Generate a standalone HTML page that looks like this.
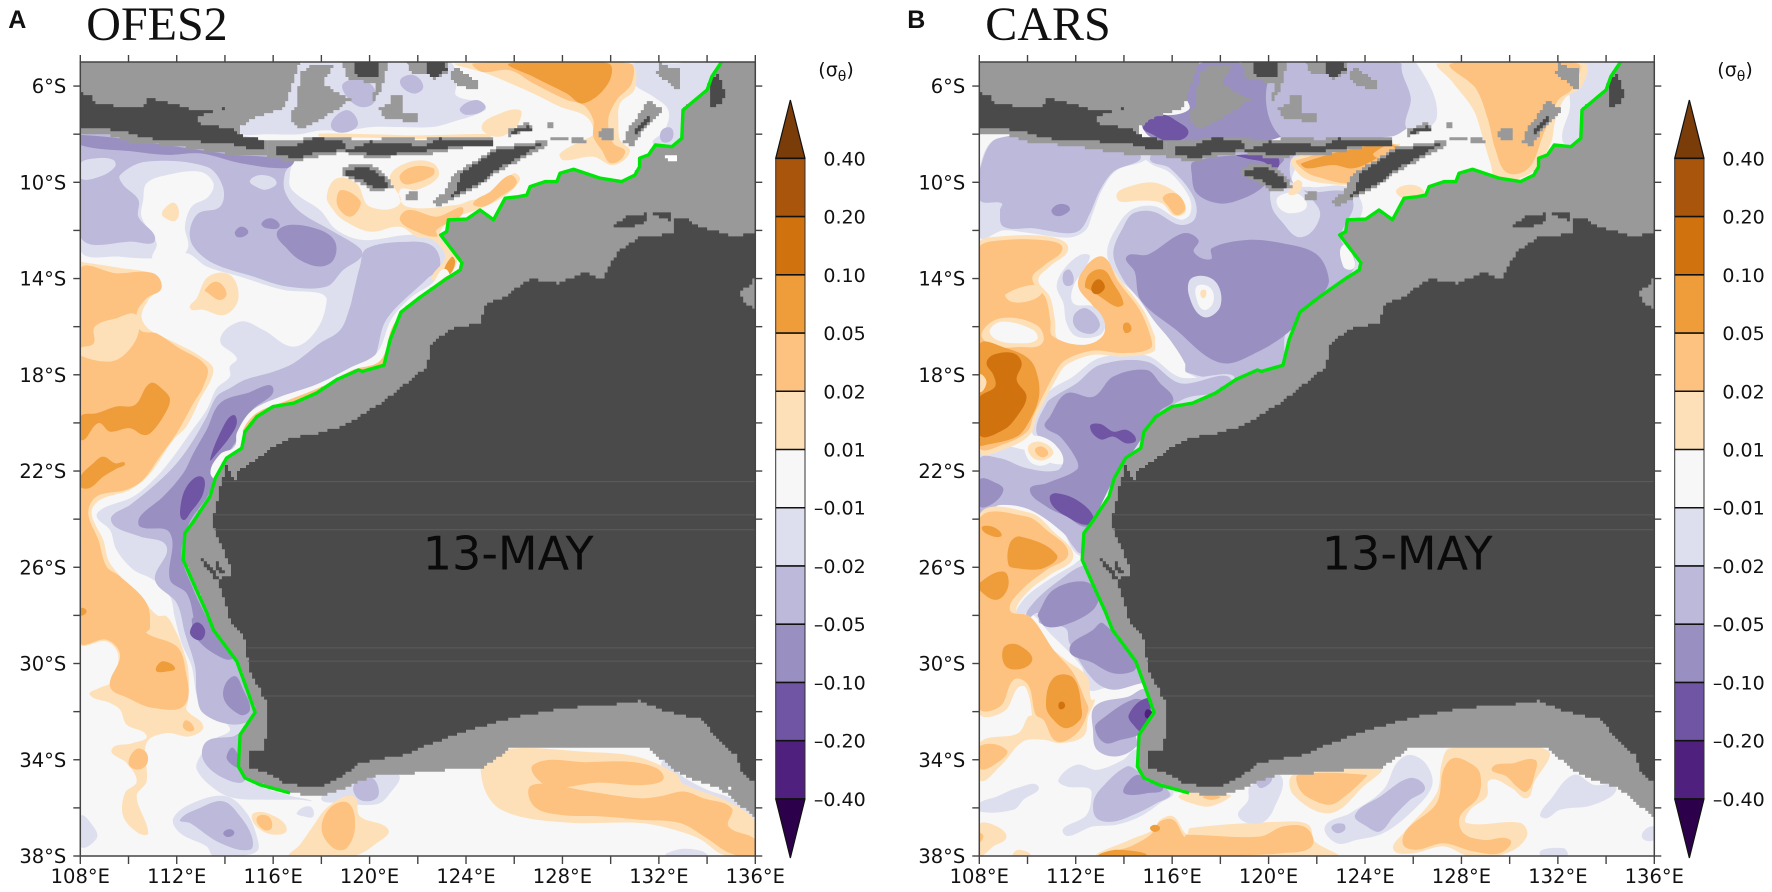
<!DOCTYPE html>
<html lang="en">
<head>
<meta charset="utf-8">
<title>OFES2 and CARS density anomaly, 13 May</title>
<style>
html,body{margin:0;padding:0;background:#fff;width:1772px;height:892px;overflow:hidden}
svg{display:block}
.tick{font-family:"DejaVu Sans","Liberation Sans",sans-serif;font-size:19.5px;fill:#111}
.cb{font-family:"DejaVu Sans","Liberation Sans",sans-serif;font-size:19px;fill:#111}
.title{font-family:"Liberation Serif",serif;font-size:48px;fill:#111}
.letter{font-family:"Liberation Sans",sans-serif;font-size:25px;font-weight:bold;fill:#111}
.date{font-family:"DejaVu Sans","Liberation Sans",sans-serif;font-size:46px;fill:#0a0a0a}
</style>
</head>
<body>
<svg id="chart" xmlns="http://www.w3.org/2000/svg" width="1772" height="892" viewBox="0 0 1772 892"></svg>
<script>
/* ---- axis values ---- */
const lonTicks = [108,110,112,114,116,118,120,122,124,126,128,130,132,134,136];
const lonLabels = [108,112,116,120,124,128,132,136];
const latTicks = [6,8,10,12,14,16,18,20,22,24,26,28,30,32,34,36,38];
const latLabels = [6,10,14,18,22,26,30,34,38];
const lonRange = [108,136];
const latRange = [5,38];
/* ---- colour-bar levels, top to bottom ---- */
const levelValues = [0.40,0.20,0.10,0.05,0.02,0.01,-0.01,-0.02,-0.05,-0.10,-0.20,-0.40];
const panelNames = ["OFES2","CARS"];
const panelLetters = ["A","B"];
const dateLabel = "13-MAY";
const dateLon = 125.75;
const dateLat = 26.1;
/* band index: 0 below -0.40 ... 12 above 0.40 */
const C6=1,C5=2,C4=2,C3=3,C2=4,C1=5,W=6,P1=7,P2=8,P3=9,P4=10;

/* ---- shared geography, [lon,lat] pairs (lat in degrees south) ---- */
const coastLine = [134.6,5, 134.2,5.6, 134,6.16, 133.5,6.58, 133,7, 132.95,8.17, 132.54,8.52, 131.85,8.45, 131.57,8.86, 131.2,9, 131.2,9.35, 131,9.7, 130.45,9.97, 129.57,9.83, 128.46,9.46, 127.9,9.62, 127.77,9.97, 127.28,9.97, 126.66,10.18, 126.52,10.53, 126.17,10.6, 125.62,10.66, 125.14,11.56, 124.58,11.15, 124.03,11.53, 123.27,11.56, 123.2,12.05, 122.95,12.19, 123.83,13.34, 123.76,13.65, 123.2,14, 122.1,14.77, 121.3,15.4, 120.85,16.55, 120.6,17.6, 119.7,17.86, 119.53,17.8, 118.64,18.2, 117.8,18.76, 116.84,19.18, 116,19.32, 115.32,19.74, 114.83,20.36, 114.7,21.05, 114.07,21.46, 113.6,22.3, 113.38,23.06, 112.69,24.1, 112.34,24.58, 112.27,25.69, 112.69,26.66, 113.25,27.9, 113.52,28.6, 114.49,29.91, 114.97,31.23, 115.25,32.03, 114.63,32.96, 114.56,34.28, 114.83,34.76, 115.46,35.04, 116.7,35.38];
const shelfEdgeEast = [117.66,35.52, 118.5,35.38, 119.6,34.9, 120.34,34.63, 121.27,34.62, 123.4,34.4, 124.62,34.35, 125.31,33.9, 125.87,33.45, 129.5,33.45, 131.54,33.55, 132.79,34.56, 133.75,34.97, 134.44,35.18, 135.24,35.8, 136,36.4, 136,5];
const landOutline = [136,12.09, 135.08,12.26, 134.46,12.05, 133.84,11.9, 133,11.43, 132.6,11.5, 132.6,12.1, 131.85,12.26, 131.2,12.26, 130.9,12.5, 130.27,12.95, 129.97,13.5, 129.63,14.05, 129,13.73, 127.9,14.2, 126.7,14, 125.76,14.67, 124.8,15.14, 124.6,15.85, 123.4,16.08, 122.5,16.78, 122.4,17.7, 120.6,19.1, 119.05,20.08, 118.07,20.4, 116.84,20.62, 116,21, 115.3,21.53, 114.63,21.95, 114.42,22.37, 114.07,21.8, 113.8,22.64, 113.7,23.3, 113.45,24.16, 113.8,25, 114.2,25.96, 114.2,26.38, 113.66,26.5, 114,27.42, 114.2,28.18, 114.9,29.15, 114.97,30.26, 115.73,31.64, 115.73,32.9, 115.6,33.65, 115.04,33.65, 115.04,34.34, 115.73,34.55, 116.42,34.97, 117.53,35.18, 118.22,35.04, 118.78,34.69, 119.6,34.13, 120.3,33.97, 121.27,33.86, 123.4,32.98, 125.76,32.28, 128.1,31.85, 130.4,31.67, 131.2,31.55, 132.05,31.93, 133.84,32.34, 134.2,32.9, 135.24,33.86, 135.4,34.56, 136,34.97];
const landLakes = [[130.05,11.85, 130.5,11.5, 130.9,11.35, 131.5,11.3, 131.4,11.75, 130.8,11.85],[131.75,11.3, 132.55,11.25, 132.55,11.6, 132.1,11.45],[134.12,5.61, 134.47,5.54, 134.68,6.16, 134.84,6.3, 134.54,6.79, 134.12,6.93]];
const landArtifactLats = [22.44,23.82,24.44,29.35,29.9,31.35];
const islandsGrey = [
 [108,5, 117.11,5, 116.7,6.3, 116.5,6.9, 115.4,7.25, 114.63,7.69, 114.56,8.03, 115.73,8.31, 115.73,8.93, 114.35,8.86, 113,8.66, 111.58,8.45, 110.2,8.38, 109.23,8.03, 108,8.03],
 [115.7,8.31, 116.84,8.24, 117.94,8.1, 119.05,8.07, 119.46,8.28, 120.98,8.14, 122.23,8.21, 123.06,8.07, 125.13,8.1, 125.16,8.55, 123.89,8.55, 123.06,8.73, 122.09,8.91, 119.88,8.96, 118.9,8.77, 117.6,9, 116.84,9.14, 115.7,8.93],
 [118.88,9.32, 120.08,9.28, 120.71,9.76, 121.02,10.25, 120.22,10.39, 119.74,10.11, 118.91,9.7],
 [122.57,10.74, 123.13,10.46, 123.2,10.11, 123.61,9.56, 125.27,8.52, 127.35,8.25, 127.35,8.52, 126.65,8.87, 125.27,9.63, 124.72,10.05, 124.03,10.46, 123.2,10.88, 122.78,11.08],
 [117.11,5.47, 117.52,5.13, 118.56,5.13, 118.08,5.89, 118.49,6.17, 119.25,6.58, 118.77,6.93, 117.94,7.41, 117.11,7.83, 116.7,7.28, 116.97,6.72],
 [118.91,5.06, 120.77,5.06, 120.5,6.17, 120.15,6.72, 120.22,5.89, 119.39,5.75, 118.98,5.61],
 [120.36,6.93, 120.84,6.72, 120.91,6.38, 121.33,6.38, 121.4,7.07, 121.95,7.2, 121.95,7.55, 121.26,7.41, 120.71,7.34],
 [121.54,5.06, 123.26,5.06, 123.26,5.41, 122.71,5.75, 122.37,5.47, 121.81,5.47],
 [123.33,5.41, 123.54,5.2, 124.44,5.82, 124.44,6.1, 123.68,6.03, 123.33,5.61],
 [125.68,7.83, 126.52,7.48, 126.86,7.76, 125.82,8.11],
 [127.32,7.48, 127.65,7.48, 127.65,7.72, 127.32,7.72],
 [127.55,8.08, 128.18,8.08, 128.24,8.31, 127.55,8.27],
 [128.38,8.18, 128.73,8.08, 129.07,8.31, 128.38,8.38],
 [129.49,7.83, 130.18,7.69, 130.11,8.24, 129.63,8.24],
 [121.51,10.49, 122.02,10.3, 122.02,10.71, 121.54,10.77],
 [131.49,6.58, 132.13,6.93, 132.13,7.14, 131.49,7.69, 130.94,8.45, 130.5,8.41, 130.73,7.69, 131.22,7.14],
 [131.84,5.47, 132.05,5.06, 132.88,5.34, 132.81,6.24, 132.32,5.75],
 [136,13.9, 135.8,14.3, 135.37,14.6, 135.5,15, 136,15.3]
];
const islandsDark = [
 [108,6.3, 108.4,6.37, 108.6,6.79, 110.6,6.85, 110.82,6.44, 111.17,6.58, 112,6.79, 112.7,7, 114.07,6.92, 112.83,7.27, 113,7.62, 114.35,7.75, 114.63,8.03, 115.6,8.24, 115.66,8.6, 115.18,8.66, 114.5,8.45, 113,8.31, 111.6,8.31, 110.6,8.1, 109.92,7.9, 108.8,7.76, 108,7.8],
 [116.1,8.45, 116.8,8.55, 117.1,8.35, 117.8,8.13, 118.9,8.31, 119.05,8.63, 119.46,8.55, 120.01,8.31, 121.12,8.38, 122.23,8.49, 122.85,8.18, 124.03,8.31, 125.13,8.22, 125.13,8.45, 124.03,8.49, 123.06,8.59, 122.09,8.73, 120.43,8.87, 119.6,8.77, 118.9,8.66, 117.8,8.77, 117.11,9, 116.8,8.95, 116.1,8.85],
 [119.05,9.45, 119.95,9.41, 120.57,9.83, 120.85,10.18, 120.29,10.25, 119.81,9.97, 119.05,9.7],
 [122.78,10.88, 123.2,10.74, 123.61,10.32, 123.75,9.63, 125.27,8.66, 127.28,8.38, 126.52,8.8, 125.27,9.49, 124.65,9.98, 124.03,10.32, 123.2,10.74],
 [119.39,5.06, 120.43,5.06, 120.36,5.61, 119.46,5.61],
 [122.37,5.06, 123.06,5.06, 123.2,5.34, 122.71,5.68, 122.37,5.47],
 [125.82,7.83, 126.65,7.66, 126.72,7.86, 125.82,7.99],
 [131.49,7.25, 131.7,7.35, 131.08,8.04, 130.94,7.83],
 [112.97,25.62, 113.1,25.62, 113.75,26.42, 113.6,26.5],
 [113.52,25.69, 113.65,25.69, 114,26.28, 113.85,26.35]
];
const ofesShelfGaps = [[132.19,8.86, 132.95,8.8, 132.74,9.07, 132.4,9.07],[134.85,35.12, 135,35.12, 135,35.25, 134.85,35.25]];
const carsShelfGaps = [];

/* ---- OFES2 density-anomaly contour patches, painted in order: [band, lon,lat...] ---- */
const ofesContours = [
 [C1,[108,8, 116.8,8.5, 116.7,9.63, 116.7,10.18, 117.11,10.6, 117.94,11.15, 118.63,11.98, 119.74,12.4, 121.54,12.19, 122.92,12.26, 123.26,13.09, 123.3,14, 121.6,15.2, 120.8,16.5, 120.6,17.7, 118.6,18.3, 116,19.4, 114.8,20.5, 114.7,21.2, 114,21.6, 113.6,22.5, 113.4,23.2, 112.7,24.2, 112.4,25.5, 112.7,26.7, 113.6,28.5, 114.5,30, 115,31.3, 115.3,32, 114.8,33, 114.7,34.3, 115,34.9, 116.7,35.5, 117.6,35.7, 117.11,35.66, 115.73,35.66, 114.35,35.59, 113.52,35.18, 112.83,34.4, 112.97,33.86, 113.52,33.17, 114.2,32.68, 113.1,32.06, 112.83,31.37, 112.62,30.12, 112.2,29.15, 111.9,28, 111.72,27.22, 111.03,26.52, 110.2,26.1, 109.5,25.28, 109.23,24.45, 108.68,23.89, 108.95,23.55, 110.2,23.06, 111.17,22.23, 111.86,21.4, 112.55,20.43, 113.24,19.46, 113.66,18.56, 114.2,18.08, 114.2,17.66, 114.49,17.31, 113.8,16.55, 114.63,15.79, 115.6,16.14, 116.84,16.83, 117.8,16.14, 118.22,14.89, 117.94,14.61, 116.42,14.47, 114.63,13.92, 113.24,13.5, 112.41,12.95, 111.17,13.16, 109.65,13.09, 108,12.81]],
 [W,[110.61,10.73, 110.75,10.04, 111.58,9.7, 112.97,9.56, 113.52,10.04, 113.31,10.6, 112.62,11.01, 112.34,11.84, 112.48,12.67, 112.14,13.1, 111.03,13.2, 111.17,12.53, 110.54,11.43]],
 [C1,[114.6,7.7, 115.45,7.15, 116.56,6.4, 117.1,5.1, 118.5,5, 123.3,5, 123.6,5.9, 123.6,6.4, 124.7,6.7, 124.8,7, 123.4,7.5, 122.6,7.7, 121.2,7.7, 120.1,7.7, 119,7.85, 117.9,7.85, 117.1,8, 115.7,8, 114.7,8]],
 [C1,[130.73,5.13, 130.94,5.89, 131.77,6.44, 132.39,7, 132.25,7.83, 131.77,8.4, 132.95,8.5, 133.5,7, 134.6,5, 132.74,5.06]],
 [C2,[108,7.96, 116.84,8.93, 116.49,9.63, 116.49,10.39, 117.11,11.22, 118.5,12.05, 119.6,12.74, 119.67,13.09, 118.91,13.64, 118.22,14.33, 116.56,14.33, 115.18,13.92, 113.52,13.37, 112.69,12.67, 112.55,11.98, 112.9,11.29, 113.8,11.01, 113.91,10.18, 113.24,9.35, 110.75,9.14, 109.65,9.7, 109.78,10.11, 110.41,10.73, 110.41,11.43, 111.1,12.4, 110.2,12.47, 108,12.26]],
 [C1,[108,9.21, 108.68,9, 109.37,9.07, 109.44,9.35, 108.82,9.76, 108,9.83]],
 [C1,[115.04,9.92, 115.59,9.7, 116.14,9.99, 115.73,10.3, 115.32,10.2]],
 [C2,[118.91,5.89, 119.74,5.75, 120.23,6.16, 120.16,6.72, 119.6,6.86, 119.05,6.44]],
 [C2,[118.43,7.76, 119.05,7, 119.47,7.69]],
 [C2,[117.11,7.13, 117.8,6.72, 118.2,7.13, 117.11,7.55]],
 [C2,[121.26,5.82, 121.81,5.54, 122.23,6.03, 121.81,6.31]],
 [C2,[123.75,6.93, 124.44,6.58, 124.79,6.93, 124.03,7.2]],
 [C2,[132.12,7.83, 132.53,7.76, 132.53,8.24, 132.12,8.3]],
 [C2,[119.88,12.75, 121.68,12.47, 122.65,12.68, 122.92,13.5, 122.4,14, 120.7,15.7, 120,17.6, 118,18.5, 116,19.3, 114.7,20.6, 114,21.5, 113.6,22.3, 112.9,24.5, 112.4,25.5, 112.7,26.7, 113.25,27.9, 114.2,29.5, 115.1,31.5, 115.2,32.2, 114.35,32.54, 113.1,32.06, 112.83,31.23, 112.76,30.12, 112.34,28.74, 112,27.49, 111.1,26.52, 111.58,25.14, 110.48,24.72, 109.44,24.31, 109.3,23.89, 110.06,23.41, 111.17,22.51, 112,21.68, 112.69,20.71, 113.24,19.74, 113.66,18.9, 114.2,18.56, 114.83,18.21, 116,17.87, 116.84,17.52, 117.94,16.69, 118.78,16.14, 119.19,15.17, 119.33,14.6, 119.6,13.5]],
 [C2,[113.24,33.24, 114.35,33.03, 114.76,32.89, 114.83,34.83, 113.93,34.76, 113.1,34]],
 [C1,[111.86,36.42, 112.83,35.73, 114.07,35.52, 114.9,36.21, 115.32,37.18, 115.32,37.81, 114.35,38, 113.52,38, 113.24,37.6, 112.14,37.05]],
 [C2,[112.14,36.49, 112.97,36, 113.93,35.73, 114.63,36.35, 115.11,37.18, 115.04,37.74, 113.8,37.46, 112.55,36.63]],
 [C3,[108,8.03, 108,8.45, 110.2,8.72, 111.58,8.86, 113,8.8, 114.63,9.2, 116.56,9.41, 116.84,9.07, 115.6,8.93, 114.35,8.86, 113,8.66]],
 [C3,[116.15,12.12, 116.7,11.77, 117.94,11.98, 118.57,12.47, 118.5,13.23, 117.94,13.5, 117.11,13.23, 116.56,12.74]],
 [C3,[114.42,12.05, 114.69,11.84, 114.97,12.05, 114.76,12.26, 114.49,12.26]],
 [C3,[115.52,11.7, 115.94,11.5, 116.26,11.84, 115.73,11.91]],
 [C3,[116,18.56, 115.1,19.5, 114.5,20.7, 113.66,21.95, 113.3,23, 112.5,24.2, 112.2,25.5, 112.6,26.7, 113.2,28, 113.9,29.2, 114.35,29.77, 113.52,29.57, 112.76,28.87, 112.62,28.18, 112.69,28.05, 112.41,27.08, 111.72,26.52, 111.72,24.58, 110.48,24.31, 110.48,23.89, 111.44,23.06, 112.27,22.09, 112.69,21.26, 113.24,20.29, 113.8,19.18, 114.9,18.77]],
 [C3,[113.93,31.37, 114.35,30.53, 114.76,31.09, 115.04,31.92, 114.63,32.13]],
 [C3,[114.07,33.86, 114.35,33.51, 114.56,34.28, 114.21,34.14]],
 [C3,[113.93,37.05, 114.21,36.88, 114.39,37.05, 114.14,37.21]],
 [C4,[113.38,21.54, 113.93,20.15, 114.35,19.67, 114.49,20.01, 114.21,20.57, 113.66,21.26]],
 [C4,[112.14,23.62, 112.41,22.65, 113.03,22.23, 113.1,22.92, 112.55,23.75, 112.27,24.03]],
 [C4,[112.55,28.67, 112.83,28.29, 113.17,28.6, 113.03,29.01, 112.69,28.94]],
 [C1,[132.2,34, 133,34.7, 134,35.25, 135,35.6, 135.8,36.2, 136,36.8, 135.6,36.6, 134.5,36.05, 133.4,35.6, 132.5,35.05]],
 [C1,[118,35.55, 119.33,34.8, 119.88,34.4, 121.2,34.6, 120.8,35.45, 120.3,35.85, 119,35.8]],
 [C2,[119.33,35.1, 119.88,34.69, 120.3,34.97, 120.3,35.59, 119.6,35.66]],
 [C1,[116.98,36.2, 117.52,35.94, 117.66,36.35, 117.25,36.35]],
 [C1,[108,36.35, 108.54,36.77, 108.68,37.26, 108,37.6]],
 [P1,[123.61,5.06, 130.8,5.06, 131.01,6.1, 130.39,6.72, 130.32,7.55, 130.39,8.24, 130.8,8.73, 130.11,9.28, 129.28,8.94, 128.04,9.08, 127.9,8.8, 128.87,8.24, 129.28,7.97, 129,7.28, 127.9,6.86, 126.79,6.31, 124.86,5.48]],
 [P2,[124.3,5.06, 130.8,5.06, 130.87,5.89, 130.25,6.58, 129.9,7.41, 130.11,8.38, 130.6,8.73, 130.04,9.21, 129.63,8.66, 129.28,8.1, 129.28,7.41, 128.87,6.79, 128.18,6.58, 126.79,5.89, 125.82,5.34, 124.65,5.41]],
 [P3,[125.82,5.06, 129.9,5.06, 129.9,5.89, 128.87,6.72, 128.18,6.31, 126.79,5.61]],
 [P1,[118.22,10.6, 118.63,9.84, 119.46,10.05, 120.01,11.01, 121.26,10.87, 120.84,9.77, 121.67,9.15, 122.64,9.21, 122.85,9.77, 121.95,10.32, 121.26,10.32, 121.54,11.01, 123.61,10.94, 124.23,10.74, 125,10.6, 125.96,9.63, 126.24,9.9, 125.55,10.6, 124.44,11.15, 123.33,11.57, 122.92,12.26, 123.61,13.09, 123.47,13.65, 123.06,14, 122.57,14, 123.13,13.09, 122.64,12.4, 121.95,12.26, 121.26,11.85, 120.01,12.05, 118.91,11.57, 118.49,11.15]],
 [P1,[124.65,7.69, 125.41,7.14, 126.24,7, 126.24,7.41, 125.96,7.83, 125.27,8.11]],
 [P1,[117.9,7.98, 120,8, 122,8.05, 125,8, 125,8.15, 122,8.2, 120,8.15, 117.9,8.1]],
 [P2,[118.63,10.74, 118.84,10.32, 119.6,10.74, 119.53,11.15, 119.18,11.43, 118.77,11.15]],
 [P2,[121.26,9.7, 121.81,9.35, 122.64,9.42, 122.64,9.7, 121.81,10.05, 121.4,10.05]],
 [P2,[121.26,11.57, 121.6,11.15, 122.78,11.43, 123.89,11.15, 122.78,11.98, 122.78,12.26, 121.95,12.05]],
 [P2,[124.3,10.87, 125,10.39, 125.82,9.7, 126.1,10.05, 125.41,10.6, 124.72,11.01]],
 [P3,[123.06,13.8, 123.4,13.1, 123.55,13.3, 123.35,13.8]],
 [W,[123.1,13.6, 122.6,14.2, 121.7,14.8, 120.9,15.7, 120.3,17.1, 119.2,17.7, 117.8,18.4, 116.2,18.95, 115.1,19.5, 114.5,20.4, 114.4,21, 113.8,21.3, 113.4,22.1, 113.9,22.4, 114.8,21.2, 115,20.4, 115.5,19.8, 116.8,19.3, 119,18.2, 120.8,17.8, 121.2,16.6, 122.1,15, 123.3,14.1]],
 [P2,[123.2,13.9, 122.5,14.5, 121.7,15, 120.95,16, 120.45,17.4, 119.3,17.8, 118,18.5, 116.5,19.1, 115.3,19.6, 114.75,20.3, 114.9,20.5, 115.5,19.9, 117,19.3, 119,18.2, 120.8,17.8, 121.2,16.6, 122.1,15, 123.3,14.1]],
 [P1,[108,13.3, 109.6,13.55, 111.1,13.9, 111.05,14.6, 110.82,14.89, 110.54,15.58, 110.89,16.14, 112,16.7, 113,17.25, 113.52,17.8, 112.95,19.05, 112.4,20.15, 111.86,20.7, 110.9,22.1, 110.06,22.78, 108.82,23.2, 108.47,23.75, 108.95,24.86, 109.23,25.83, 110.6,27.35, 111.2,28, 111.58,28.04, 112,28.74, 112.27,29.43, 112.48,30.26, 112.48,31.5, 112.41,31.92, 113.1,32.61, 112.55,33.03, 111.58,32.89, 110.75,33.3, 110.75,34.9, 110.34,35.52, 110.82,37.05, 110.41,37.05, 109.78,36.35, 109.85,35.38, 110.34,34.9, 109.92,34.14, 109.3,33.58, 110.2,33.3, 110.75,33, 109.92,32.54, 109.65,31.92, 109.23,31.64, 108.4,31.3, 108.82,31, 109.23,30.81, 109.58,29.7, 109.09,29.08, 108,29.15, 108,21, 108,13.3]],
 [P2,[108,13.64, 109.5,13.78, 111.03,13.78, 111.37,14.4, 110.75,14.82, 110.34,15.44, 110.48,16.14, 111.17,16.28, 112,16.83, 113.24,17.66, 113.1,18.49, 112.69,19.18, 112,20.43, 111.3,21.4, 110.6,22.37, 109.92,22.78, 108.68,23.06, 108.33,23.75, 108.75,24.86, 109.09,25.97, 109.65,26.38, 110.75,27.49, 110.89,28.53, 110.75,28.74, 112,29.29, 112.34,30.12, 112.34,31.71, 111.03,31.85, 110,31.44, 109.23,30.95, 109.65,29.64, 109.09,29.01, 108,29.11, 108,21]],
 [P1,[108,16.9, 108,17.2, 109.2,17.45, 109.85,17.15, 110.4,16.3, 110.3,15.5, 109.5,15.65, 108.6,16, 108.55,16.7]],
 [P3,[108,19.74, 108.68,19.6, 109.5,19.32, 110.27,19.25, 110.9,18.35, 111.44,18.63, 111.72,19.04, 111.44,19.74, 110.9,20.43, 110.6,20.5, 110.06,20.22, 109.23,20.36, 108.75,20.01, 108,20.71]],
 [P3,[108,22.23, 108.54,21.68, 108.95,21.4, 109.44,21.68, 109.85,21.68, 109.5,21.9, 108.95,22.23, 108.4,22.7, 108,22.65]],
 [P3,[111.17,30.12, 111.44,29.91, 111.93,30.19, 111.58,30.33, 111.17,30.33]],
 [P3,[108,27.7, 108.26,27.83, 108,28]],
 [P1,[111.44,11.15, 111.93,10.87, 112,11.56, 111.44,11.43]],
 [P1,[112.83,14.82, 113.31,13.92, 114.21,13.85, 114.56,14.82, 114,15.51, 113.1,15.3, 112.55,15.24]],
 [P2,[113.17,14.47, 113.66,14.13, 114.07,14.61, 113.8,14.89, 113.31,14.61]],
 [P2,[110,34.14, 110.34,33.55, 110.75,33.72, 110.75,34.2, 110.34,34.41]],
 [P2,[112.25,32.61, 112.41,32.36, 112.73,32.72, 112.48,32.82]],
 [P1,[117.6,36.84, 118.29,35.94, 119.33,35.52, 119.6,36.35, 120.78,36.9, 120.3,37.46, 119.33,38, 116.7,38, 117.11,37.53]],
 [P2,[118.01,36.9, 118.36,36, 119.12,35.8, 119.4,36.77, 119.05,37.67, 118.5,37.67]],
 [P1,[115.11,36.35, 115.73,36.21, 116.56,36.9, 115.73,37.05]],
 [P2,[115.32,36.42, 115.8,36.35, 115.94,36.84, 115.59,36.9]],
 [P1,[124.9,33.7, 129.5,33.7, 131.2,33.9, 132.74,34.6, 133,35, 135,35.8, 136,36.6, 136,38, 134.68,37.95, 133.71,37.3, 132.6,36.9, 131.22,36.63, 128,36.6, 125.5,36.1, 124.7,35]],
 [P2,[126.6,35.2, 127.2,35, 129,35.3, 131.22,35.6, 132.05,35.52, 133.02,35.32, 133.85,35.6, 135.02,36.01, 134.89,36.77, 136,37.32, 136,38, 134.95,37.88, 133.99,37.26, 132.88,36.63, 131.22,36.49, 129.5,36.35, 128,36.3, 126.9,36]],
 [P2,[126.8,34.2, 129,34.1, 131.22,34.14, 132.2,34.7, 131.4,35.05, 129.5,34.95, 127.4,35.1]],
 [C1,[132.3,37.9, 133,37.7, 133.8,37.8, 134,38, 132.3,38]]
];

/* ---- CARS density-anomaly contour patches, painted in order ---- */
const carsContours = [
 [C1,[108,9.5, 108.8,8.17, 115,8.5, 114.9,9.06, 113.7,9.5, 113.1,10.3, 112.7,11.3, 112.4,12, 111.7,12.3, 110,12.1, 109,12, 108,12.26]],
 [C2,[108,9.56, 108.79,8.17, 112.73,8.24, 114.67,8.86, 113.56,9.56, 113.01,10.32, 112.59,11.29, 112.18,11.98, 111.62,12.12, 110.24,11.91, 109,11.84, 108.86,11.15, 108.93,10.87, 108,10.73]],
 [C3,[111,11.15, 111.35,10.9, 111.76,11.08, 111.49,11.36, 111.14,11.38]],
 [C1,[114.5,8.5, 121.3,8.5, 121.3,9, 121,10, 121.8,10.2, 123.3,10.2, 123.9,11, 123.5,12, 123.2,12.4, 123.9,13.3, 123,14.4, 121.6,15.2, 120.8,16.5, 120.6,17.7, 118.6,18.4, 116.6,17.9, 116.8,17.3, 116,16.4, 115.1,15.5, 114.4,14.6, 113.8,14, 113.3,12.95, 113.8,11.7, 114.4,11.1, 115.3,11, 116.33,11.55, 116.75,11.3, 116.7,10.6, 115.91,9.6, 115.08,9.2]],
 [C2,[116,8.5, 121.2,8.5, 120.89,9.21, 121.03,10.04, 121.72,10.39, 123.24,10.39, 123.52,11.01, 123.1,11.9, 123,12.4, 123.6,13.3, 123,14.2, 121.5,15.1, 120.7,16.3, 120.5,17.6, 118.6,18.2, 116.6,17.9, 116.53,17.52, 115.91,16.55, 115.22,15.72, 114.67,14.89, 113.98,14.06, 113.56,12.95, 113.98,11.84, 114.39,11.29, 115.22,11.22, 116.33,11.77, 116.95,11.5, 116.88,10.6, 115.91,9.42, 115.08,9]],
 [C3,[114.11,13.09, 115,13, 116.46,12.12, 117.09,12.4, 116.9,12.9, 117.6,13.2, 117.64,12.74, 119.1,12.4, 120.6,12.54, 122,13, 122.5,14.05, 122.2,14.7, 121,16.08, 119.6,17.02, 118,17.5, 116.1,16.08, 114.7,14.9, 114.45,13.73]],
 [C1,[116.83,13.97, 117.77,14.1, 118,15.14, 117.3,15.6, 116.7,14.7]],
 [W,[117.05,14.3, 117.6,14.4, 117.7,15, 117.3,15.3, 117,14.8]],
 [P1,[117.2,14.5, 117.4,14.5, 117.35,14.8, 117.2,14.75]],
 [C3,[116.88,9.15, 118.95,8.87, 120.61,9.01, 120.4,9.35, 119.78,10.18, 118.95,10.67, 117.98,10.88, 117.02,10.46, 116.81,9.63]],
 [C4,[118.68,8.87, 120.34,8.94, 120.34,9.42, 119.78,9.15, 119.09,9.01]],
 [C1,[120.2,10.1, 121.03,10.04, 122,10.95, 122.13,11.43, 121.72,12.12, 121.17,12.26, 120.61,11.71, 120.13,11.01]],
 [W,[120.4,10.6, 121.17,10.46, 121.58,11.01, 120.89,11.29, 120.4,11.01]],
 [W,[123.1,12.6, 123.55,13.2, 123.5,13.6, 123.1,13.5]],
 [C3,[116.95,5.13, 118.95,5.06, 119.64,5.61, 120.4,5.75, 120.4,6.86, 120.54,8.1, 116.46,8.38, 115.08,8.1, 114.8,7.41, 116.67,7, 116.46,6.17]],
 [C4,[114.8,7.69, 115.57,7.2, 116.12,7.41, 116.67,7.96, 115.91,8.31, 115.22,8.03]],
 [C2,[120.47,5.06, 125.52,5.06, 126,6.37, 126.08,7.27, 125.73,7.76, 125.04,8.1, 120.61,8.18]],
 [C1,[125.52,5.06, 126.14,5.06, 126.98,7.28, 125.8,7.83, 125.9,6.5]],
 [C1,[132.6,5.06, 134.6,5, 132.9,8.3, 132.2,8.3, 132.5,6.9]],
 [P1,[127.04,5.06, 133.1,5.06, 133,6, 132.3,6.5, 131.9,7.4, 131.7,8.4, 130.9,9.6, 129.5,9.9, 129.2,9.2, 128.9,8.2, 128.5,7, 127.6,5.8]],
 [P2,[127.6,5.06, 132.8,5.06, 132.6,6.1, 132,6.6, 131.4,8, 130.8,9.4, 129.9,9.6, 129.4,8.6, 129.1,7.4, 128.6,6.1]],
 [P1,[120.82,10.46, 121.17,9.91, 121.4,10.05, 121.2,10.46]],
 [P1,[121,9, 125.4,8.4, 125,8.9, 123.8,9.9, 123.5,10.1, 122,10, 121.3,9.7]],
 [P2,[121.17,9.08, 125.31,8.45, 123.52,9.98, 122,9.77, 121.44,9.49]],
 [P3,[121.37,9.21, 123.93,8.52, 125.25,8.52, 124.49,9, 123.52,9.42, 122.69,9.28, 121.58,9.42]],
 [P2,[124.35,8.8, 125.18,8.52, 124.62,9]],
 [P1,[125.3,10.32, 126,10.11, 126.49,10.46, 126.14,10.6, 125.59,10.67]],
 [P1,[113.7,10.48, 114.11,10.21, 115.22,10.01, 116.19,10.46, 116.58,11.15, 116.12,11.4, 115.57,10.87, 114.67,10.76, 113.84,10.8]],
 [P2,[115.63,10.6, 116.19,10.48, 116.54,11.08, 116.19,11.36, 115.84,11]],
 [C1,[108,21.1, 109.8,21.1, 111.1,21.7, 111.7,21.54, 111,20.7, 110.2,20.43, 110.5,19.18, 111,18.6, 111.85,18.1, 113,17.3, 114.94,17.2, 116.33,18.1, 118.6,18.3, 116,19.5, 114.7,21, 113.6,22.5, 112.4,24.5, 112.3,25.5, 111.9,25.3, 111.4,24.4, 110.1,23.4, 108.86,23.2, 108,23.5]],
 [C2,[108,21.51, 108.86,21.47, 109.96,21.88, 111.21,21.98, 111.49,21.54, 111.21,20.98, 110.38,20.43, 110.79,19.18, 111.21,18.84, 112.04,18.35, 113.01,17.59, 114.94,17.45, 116.33,18.35, 118.5,18.3, 116.5,19, 115,20, 113.7,22, 112.5,24.5, 112.3,25, 112.25,25.42, 111.9,25.14, 111.49,24.58, 110.1,23.61, 108.86,23.41, 108,23.75]],
 [C3,[110.1,22.78, 110.79,22.51, 112.04,21.95, 112.04,21.54, 111.35,20.57, 110.72,20.15, 110.93,19.74, 111.62,18.77, 112.73,18.91, 113.56,18.07, 114.94,17.8, 115.5,18.35, 116.05,19.04, 115.5,19.5, 114.5,21, 113.5,22.5, 112.9,23.7, 112.45,24.31, 111.62,23.89, 110.79,23.48]],
 [C4,[112.59,20.15, 113.01,20.04, 113.56,20.36, 114.11,20.29, 114.5,20.7, 114.11,20.85, 113.56,20.57, 113.01,20.68]],
 [C4,[110.93,23.06, 111.21,22.92, 112.04,23.2, 112.73,23.89, 112.45,24.24, 111.62,23.89, 111.07,23.48]],
 [C3,[108,22.37, 108.72,22.51, 109,22.79, 108.58,23.34, 108,23.45]],
 [P1,[108,12.53, 108.72,12.26, 110.93,12.26, 111.69,12.74, 110.93,13.5, 110.45,14.06, 110.93,14.75, 111.14,15.72, 111.28,16.55, 112.45,16.9, 113.35,16.34, 113.28,16.14, 112.87,15.17, 112.25,14.33, 112.59,13.5, 113.15,13.23, 113.84,14.06, 114.8,15.3, 115.29,16.41, 115.29,16.55, 115.22,17.04, 113.98,17.24, 112.73,17.17, 111.62,17.59, 111.21,18.14, 110.38,19.74, 110.1,20.5, 109.13,21.05, 108,21.19, 108,17]],
 [P2,[108,12.75, 108.8,12.42, 110.8,12.42, 111.45,12.75, 110.7,13.45, 110.2,14, 110.75,14.8, 110.95,15.75, 111.05,16.4, 112.4,16.75, 113.2,16.2, 112.75,15.2, 112.1,14.3, 112.45,13.45, 113.15,13.1, 113.75,14.1, 114.65,15.3, 115.1,16.4, 115.1,16.9, 114,17.1, 112.7,17, 111.55,17.4, 111.1,18, 110.25,19.7, 110,20.35, 109.1,20.85, 108,21, 108,17]],
 [P1,[109.1,14.65, 110.4,14.25, 110.6,14.6, 110,14.95, 109.3,14.95]],
 [P1,[108.1,16.3, 108.9,15.65, 110.4,15.95, 110.6,16.7, 109.6,16.85, 108.6,16.8]],
 [W,[108.44,16.14, 108.99,15.79, 110.24,16.14, 110.38,16.55, 109.55,16.69, 108.72,16.55]],
 [P3,[108,16.76, 109.13,16.9, 110.1,17.38, 110.45,18.21, 110.45,19.04, 110.03,20.01, 109.55,20.57, 108.3,20.91, 108,20.91]],
 [P4,[108.3,17.52, 108.58,17.17, 109.41,17.1, 109.76,17.52, 109.55,18.21, 109.96,18.91, 109.55,19.74, 109,20.29, 108,20.5, 108,18.97, 108.65,18.49, 108.58,18]],
 [P1,[108,18, 108.3,18.3, 108,18.7]],
 [P3,[112.38,14.33, 112.59,13.78, 113.15,13.64, 113.56,14.19, 113.98,15.03, 113.7,15.17, 113.01,14.75, 112.59,14.47]],
 [P4,[112.66,14.33, 112.94,14.03, 113.21,14.33, 113.01,14.61, 112.73,14.61]],
 [P3,[113.98,15.9, 114.2,15.85, 114.3,16.15, 114.05,16.25]],
 [C1,[111.49,13.64, 112.18,13.02, 112.59,13.09, 111.9,14.33, 111.9,15.03, 112.73,15.17, 113.21,15.86, 113,16.35, 112.04,16.41, 111.62,15.86, 111.49,15.03, 111.21,14.33]],
 [C2,[111.49,13.78, 111.76,13.64, 111.9,14.19, 111.55,14.27]],
 [C2,[111.98,15.44, 112.45,15.24, 113,15.86, 112.73,16.27, 112.18,16.2, 111.9,15.86]],
 [W,[109.9,20.8, 110.52,20.55, 111.3,21.19, 110.72,21.75, 110.1,21.6]],
 [P1,[110.03,20.98, 110.52,20.78, 111.07,21.19, 110.72,21.54, 110.24,21.47]],
 [P2,[110.31,21.12, 110.59,20.98, 110.86,21.26, 110.59,21.43]],
 [C1,[112.25,25.69, 111.9,25.9, 110.66,26.66, 109.83,27.35, 109.55,28.05, 110.1,27.9, 110.92,28.73, 112.23,30.12, 112.56,31.09, 113.2,31.02, 114.85,30.81, 115,31, 113.5,26]],
 [C2,[112.45,25.9, 111.35,26.52, 110.24,27.49, 109.96,28.12, 110.43,27.9, 110.51,28.32, 111.57,28.53, 111.74,29.15, 112.72,30.67, 113.54,31.09, 114.85,30.81, 115,31, 113.5,27, 112.9,26.3]],
 [C3,[110.45,27.91, 111.07,26.94, 112.32,26.59, 112.94,27.08, 112.72,27.77, 111.57,28.39, 110.75,28.46, 110.43,28.04]],
 [C3,[111.74,29.43, 112.72,28.6, 113.13,28.32, 114.52,29.98, 114.36,30.33, 113.54,30.4, 112.72,29.98]],
 [C2,[112.72,32.82, 112.8,31.78, 114.2,31.37, 114.93,31.09, 115.26,32.06, 114.52,32.89, 114.52,33.44, 113.7,33.86, 112.88,33.58]],
 [C3,[112.8,32.68, 113.05,32.34, 114.36,31.5, 115,31.64, 115.1,32.06, 114.69,32.89, 113.87,33.17, 113.2,33.3]],
 [C4,[114.2,32.13, 114.93,31.44, 115.1,31.92, 114.77,32.82, 114.44,32.61]],
 [C6,[114.93,31.92, 115.18,32.06, 114.93,32.27]],
 [C1,[111.28,34.83, 112.04,34.21, 112.87,34.42, 113.97,34, 114.53,33.6, 114.9,34.4, 116.05,35.32, 115.5,35.8, 114.67,36.36, 113.7,36.7, 112.73,36.77, 111.48,37.05, 112.45,36.29, 112.66,35.39, 112.52,35.18, 111.62,35.11]],
 [C2,[112.73,35.8, 113,35.25, 114.11,34.28, 114.6,34.49, 115.91,35.39, 115.36,35.8, 114.39,36.29, 113.56,36.57, 112.87,36.43]],
 [C3,[113.97,35.32, 114.25,34.83, 114.6,34.63, 114.94,34.9, 115.63,35.18, 114.94,35.39, 114.25,35.46]],
 [C1,[108,35.8, 108.72,35.53, 109.55,35.18, 110.45,35.11, 109.83,35.66, 109.41,36.08, 108,36.15]],
 [P1,[108,23.82, 110.1,23.73, 111.07,24.51, 111.9,25.55, 110.93,26.32, 110.03,27.01, 109.55,27.9, 110.75,29.15, 111.57,29.84, 112.47,30.54, 112.64,31.5, 112.8,31.51, 112.52,32.2, 112.32,33.03, 111.35,33.31, 110.66,33.17, 109.8,33.25, 108.86,34.28, 108,34.83, 108,33.31, 109.6,32.9, 110.03,32.2, 110.18,32.13, 109.93,31, 109.6,31, 109.03,31.99, 108,32.06, 108,28]],
 [P2,[108,24, 109.96,23.89, 110.79,24.45, 111.69,25.42, 110.79,26.11, 109.83,26.87, 109.27,27.77, 110.1,28.04, 111.08,29.43, 111.9,30.4, 112.39,31.5, 112.52,31.93, 112.04,32.9, 111.21,33.24, 110.66,32.34, 110.34,32.13, 110.02,30.88, 109.44,30.67, 108.87,31.78, 108,31.85, 108,28]],
 [P2,[108,33.45, 109.13,33.59, 108.72,34.14, 108,34.35]],
 [P3,[109.27,25, 109.69,24.72, 111.21,25.48, 110.66,26.04, 109.55,26.04, 109.21,25.9]],
 [P3,[108.1,24.38, 108.5,24.3, 108.93,24.65, 108.58,24.72]],
 [P3,[108,26.66, 109,26.18, 109.2,26.8, 108.72,27.35, 108,26.94]],
 [P3,[109,29.36, 109.6,29.22, 110.18,29.91, 109.2,30.19]],
 [P3,[110.77,31.79, 111.08,30.6, 111.9,30.6, 112.25,31.93, 112.18,32.34, 111.62,32.69, 111.14,32.41]],
 [P4,[111.3,31.65, 111.48,31.6, 111.55,31.8, 111.35,31.9]],
 [P1,[108,36.7, 108.58,36.7, 109.13,37.19, 108.58,37.6, 108,37.95]],
 [P2,[108,37.05, 108.17,37.19, 108,37.4]],
 [P1,[109.41,38, 109.62,37.74, 110.1,38]],
 [P1,[116.33,35.46, 118.4,35.46, 117.98,35.8, 117.29,35.94]],
 [P2,[117.29,35.53, 117.98,35.53, 117.64,35.67]],
 [P1,[112.95,38, 114.24,37.33, 115.2,36.92, 115.5,36.5, 116.05,36.36, 116.6,37.1, 116.74,36.84, 120.61,36.57, 121.65,36.7, 121.93,37.4, 122.83,38]],
 [P2,[113.16,38, 114.27,37.6, 115.1,37.12, 115.5,36.57, 116.05,36.5, 116.5,37.2, 116.6,37.12, 119.64,37.19, 120.61,36.77, 121.58,36.84, 121.79,37.6, 120.61,37.88, 117.85,38]],
 [P3,[115.08,36.84, 115.29,36.7, 115.5,36.84, 115.29,37]],
 [P3,[113,38, 113.7,37.74, 114.87,38]],
 [P1,[121.03,34.63, 124.62,34.35, 123.93,35.11, 122.55,36.22, 121.03,35.46]],
 [P2,[121.23,34.63, 124.07,34.63, 123.93,34.83, 123.24,35.46, 122.55,35.87, 121.58,35.53, 121.23,35.11]],
 [C1,[119.23,35.11, 120.47,34.63, 120.2,36.08, 119.64,36.64, 118.75,36.36, 119.16,35.67]],
 [C2,[119.51,34.83, 120.13,34.7, 119.71,35.18]],
 [C1,[122.34,36.77, 123.38,36.22, 124.76,35.25, 125.31,34.14, 125.87,33.8, 126.56,34.21, 126.77,35.11, 125.87,36.22, 124.76,37.05, 123.66,37.33, 122.83,37.47]],
 [C2,[123.59,36.29, 124.62,35.53, 125.87,34.76, 126.49,35.18, 125.87,35.67, 125.18,36.36, 124.62,36.98, 124.07,36.77]],
 [C2,[122.62,36.77, 123.1,36.66, 123.17,36.91, 122.83,37.05]],
 [P1,[127.18,34.14, 127.53,33.52, 131.54,33.59, 131,34.97, 130.71,35.6, 130.09,35.18, 129.19,34.83, 129.05,35.53, 128.36,36.08, 128.22,36.63, 130.45,36.63, 130.71,37.19, 129.88,37.88, 128.36,38.02, 127.25,37.6, 126.01,37.88, 125.18,37.74, 125.59,37.05, 126.97,35.39]],
 [P2,[127.25,34.42, 127.67,33.93, 128.36,34.14, 128.77,34.56, 128.7,35.53, 127.94,36.36, 128.08,37.05, 128.91,37.33, 130.02,37.33, 129.6,37.88, 128.5,37.81, 127.25,37.47, 126.14,37.74, 125.59,37.54, 125.73,36.91, 126.97,35.8]],
 [P2,[129.26,34.35, 130.16,34.14, 131.05,34, 131.05,34.56, 130.71,35.32, 130.29,35.11, 129.88,34.7]],
 [C1,[131.26,36.29, 131.68,35.67, 132.65,34.63, 133.48,35.04, 134.44,35.14, 133.48,35.87, 132.09,36.08, 131.54,36.43]],
 [C1,[135.48,37.19, 135.97,36.77, 136,37.33]],
 [C1,[131.26,37.95, 132.23,37.67, 132.37,38]]
];

/* ---- band fill colours ---- */
const bandColors = ["#2d004b","#4f207d","#6f55a3","#9a8fc1","#bcb9da","#dedfee","#f7f7f7","#fee0b8","#fdc27f","#ef9c3a","#d0730f","#a9560c","#7a3d0a"];

const SVG_NS = "http://www.w3.org/2000/svg";
const root = document.getElementById("chart");
const PW = 675, PH = 794, TOP = 62;
const GRID_CELL = 0.125;

function make(tag, attrs, parent){
  const e = document.createElementNS(SVG_NS, tag);
  for (const k in attrs) e.setAttribute(k, attrs[k]);
  parent.appendChild(e);
  return e;
}
function pairs(flat){
  const out = [];
  for (let i = 0; i + 1 < flat.length; i += 2) out.push([flat[i], flat[i+1]]);
  return out;
}

function drawPanel(index, x0, contours, shelfGaps){
  const xScale = lon => x0 + (lon - lonRange[0]) / (lonRange[1] - lonRange[0]) * PW;
  const yScale = lat => TOP + (lat - latRange[0]) / (latRange[1] - latRange[0]) * PH;
  const proj = flat => pairs(flat).map(p => [xScale(p[0]), yScale(p[1])]);
  /* model-grid staircase outline for land and shelf masks */
  const stair = flat => {
    const pts = pairs(flat), snap = v => Math.round(v / GRID_CELL) * GRID_CELL;
    let d = "", cx = null, cy = null;
    const seg = (sx, sy) => {
      if (cx === null) { d += "M" + xScale(sx).toFixed(1) + " " + yScale(sy).toFixed(1); cx = sx; cy = sy; return; }
      if (sx === cx && sy === cy) return;
      if (sx !== cx) d += "L" + xScale(sx).toFixed(1) + " " + yScale(cy).toFixed(1);
      if (sy !== cy) d += "L" + xScale(sx).toFixed(1) + " " + yScale(sy).toFixed(1);
      cx = sx; cy = sy;
    };
    pts.forEach((a, i) => {
      const b = pts[(i + 1) % pts.length];
      const steps = Math.max(1, Math.ceil(Math.hypot(b[0]-a[0], b[1]-a[1]) / (GRID_CELL / 2)));
      for (let s = 0; s < steps; s++) seg(snap(a[0] + (b[0]-a[0]) * s / steps), snap(a[1] + (b[1]-a[1]) * s / steps));
    });
    return d + "Z";
  };
  const smooth = flat => {
    const p = proj(flat), n = p.length;
    let d = "M" + p[0][0].toFixed(1) + " " + p[0][1].toFixed(1);
    const unit = (u, v) => { const dx = v[0]-u[0], dy = v[1]-u[1], L = Math.hypot(dx, dy) || 1; return [dx/L, dy/L]; };
    for (let i = 0; i < n; i++){
      const a = p[(i-1+n)%n], b = p[i], c = p[(i+1)%n], e = p[(i+2)%n];
      const L = Math.hypot(c[0]-b[0], c[1]-b[1]) * 0.33;
      const t1 = unit(a, c), t2 = unit(b, e);
      d += "C" + (b[0]+t1[0]*L).toFixed(1) + " " + (b[1]+t1[1]*L).toFixed(1) + " " + (c[0]-t2[0]*L).toFixed(1) + " " + (c[1]-t2[1]*L).toFixed(1) + " " + c[0].toFixed(1) + " " + c[1].toFixed(1);
    }
    return d + "Z";
  };

  const panel = make("g", {}, root);
  
  

  const letter = make("text", {x: x0 - 72, y: 28, "class": "letter"}, panel);
  letter.textContent = panelLetters[index];
  
  

  const title = make("text", {x: x0 + 6, y: 40, "class": "title"}, panel);
  title.textContent = panelNames[index];
  
  

  const defs = make("defs", {}, panel);
  const clip = make("clipPath", {id: "plot-clip-" + index}, defs);
  make("rect", {x: x0, y: TOP, width: PW, height: PH}, clip);

  const plot = make("g", {"clip-path": "url(#plot-clip-" + index + ")"}, panel);
  
  

  const ocean = make("rect", {x: x0, y: TOP, width: PW, height: PH, fill: bandColors[W]}, plot);
  
  

  contours.forEach(layer => {
    const patch = make("path", {d: smooth(layer[1]), fill: bandColors[layer[0]]}, plot);
    
    
  });

  const shelf = make("path", {d: stair(coastLine.concat(shelfEdgeEast)), fill: "#999999"}, plot);
  
  

  shelfGaps.forEach(flat => {
    const gap = make("path", {d: stair(flat), fill: "#ffffff"}, plot);
    
    
  });

  const land = make("path", {d: stair(landOutline.concat([136,12.09])), fill: "#4a4a4a"}, plot);
  
  

  landArtifactLats.forEach(lat => {
    const crossings = [];
    const pts = pairs(landOutline);
    for (let i = 0; i < pts.length - 1; i++){
      const a = pts[i], b = pts[i+1];
      if ((a[1] - lat) * (b[1] - lat) < 0) crossings.push(a[0] + (lat - a[1]) / (b[1] - a[1]) * (b[0] - a[0]));
    }
    const west = crossings.length ? Math.min.apply(null, crossings) : lonRange[1];
    const streak = make("line", {x1: xScale(west), x2: xScale(lonRange[1]), y1: yScale(lat), y2: yScale(lat), stroke: "#5c5c5c", "stroke-width": 1}, plot);
    
    
  });

  landLakes.forEach(flat => {
    const lake = make("path", {d: stair(flat), fill: "#4a4a4a"}, plot);
    
    
  });
  islandsGrey.forEach(flat => {
    const isle = make("path", {d: stair(flat), fill: "#999999"}, plot);
    
    
  });
  islandsDark.forEach(flat => {
    const isle = make("path", {d: stair(flat), fill: "#4a4a4a"}, plot);
    
    
  });

  const green = make("polyline", {points: proj(coastLine).map(p => p[0].toFixed(1) + "," + p[1].toFixed(1)).join(" "), fill: "none", stroke: "#00e40a", "stroke-width": 3.4, "stroke-linejoin": "round"}, plot);
  
  

  const date = make("text", {x: xScale(dateLon), y: yScale(dateLat), "class": "date", "text-anchor": "middle"}, plot);
  date.textContent = dateLabel;
  
  

  const frame = make("rect", {x: x0, y: TOP, width: PW, height: PH, fill: "none", stroke: "#444", "stroke-width": 1.5}, panel);
  
  

  lonTicks.forEach(lon => {
    const xp = xScale(lon);
    const top = make("line", {x1: xp, x2: xp, y1: TOP - 7, y2: TOP, stroke: "#444", "stroke-width": 1.4}, panel);
    
    
    const bottom = make("line", {x1: xp, x2: xp, y1: TOP + PH, y2: TOP + PH + 8, stroke: "#444", "stroke-width": 1.4}, panel);
    
    
  });
  latTicks.forEach(lat => {
    const yp = yScale(lat);
    const left = make("line", {x1: x0 - 7, x2: x0, y1: yp, y2: yp, stroke: "#444", "stroke-width": 1.4}, panel);
    
    
    const right = make("line", {x1: x0 + PW, x2: x0 + PW + 7, y1: yp, y2: yp, stroke: "#444", "stroke-width": 1.4}, panel);
    
    
  });
  lonLabels.forEach(lon => {
    const t = make("text", {x: xScale(lon), y: 883, "class": "tick", "text-anchor": "middle"}, panel);
    t.textContent = lon + "\u00B0E";
    
    
  });
  latLabels.forEach(lat => {
    const t = make("text", {x: x0 - 14, y: yScale(lat) + 7, "class": "tick", "text-anchor": "end"}, panel);
    t.textContent = lat + "\u00B0S";
    
    
  });

  /* colour bar */
  const barX = x0 + 695.4, barW = 29.3, barTop = 158.3, step = 58.24;
  const levelY = i => barTop + i * step;
  const bar = make("g", {}, panel);
  
  
  const n = levelValues.length;
  for (let i = 0; i < n - 1; i++){
    const seg = make("rect", {x: barX, y: levelY(i), width: barW, height: step, fill: bandColors[11 - i]}, bar);
    
    
  }
  const upper = make("path", {d: "M" + barX + " " + barTop + "L" + (barX + barW / 2) + " 100L" + (barX + barW) + " " + barTop + "Z", fill: bandColors[12], stroke: "#111", "stroke-width": 1.2}, bar);
  
  
  const lowY = levelY(n - 1);
  const lower = make("path", {d: "M" + barX + " " + lowY + "L" + (barX + barW / 2) + " 858L" + (barX + barW) + " " + lowY + "Z", fill: bandColors[0], stroke: "#111", "stroke-width": 1.2}, bar);
  
  
  const outline = make("rect", {x: barX, y: barTop, width: barW, height: step * (n - 1), fill: "none", stroke: "#333", "stroke-width": 1}, bar);
  
  
  levelValues.forEach((v, i) => {
    const sep = make("line", {x1: barX, x2: barX + barW, y1: levelY(i), y2: levelY(i), stroke: "#111", "stroke-width": 1.6}, bar);
    
    
    const lab = make("text", {x: x0 + 785.4, y: levelY(i) + 7, "class": "cb", "text-anchor": "end"}, bar);
    lab.textContent = (v < 0 ? "\u2013" : "") + Math.abs(v).toFixed(2);
    
    
  });
  const unit = make("text", {x: x0 + 738, y: 76, "class": "cb"}, bar);
  
  
  const s1 = make("tspan", {}, unit);
  s1.textContent = "(\u03C3";
  const s2 = make("tspan", {dy: 5, "font-size": 14}, unit);
  s2.textContent = "\u03B8";
  const s3 = make("tspan", {dy: -5}, unit);
  s3.textContent = ")";
}

drawPanel(0, 80.3, ofesContours, ofesShelfGaps);
drawPanel(1, 979.3, carsContours, carsShelfGaps);
</script>
</body>
</html>
